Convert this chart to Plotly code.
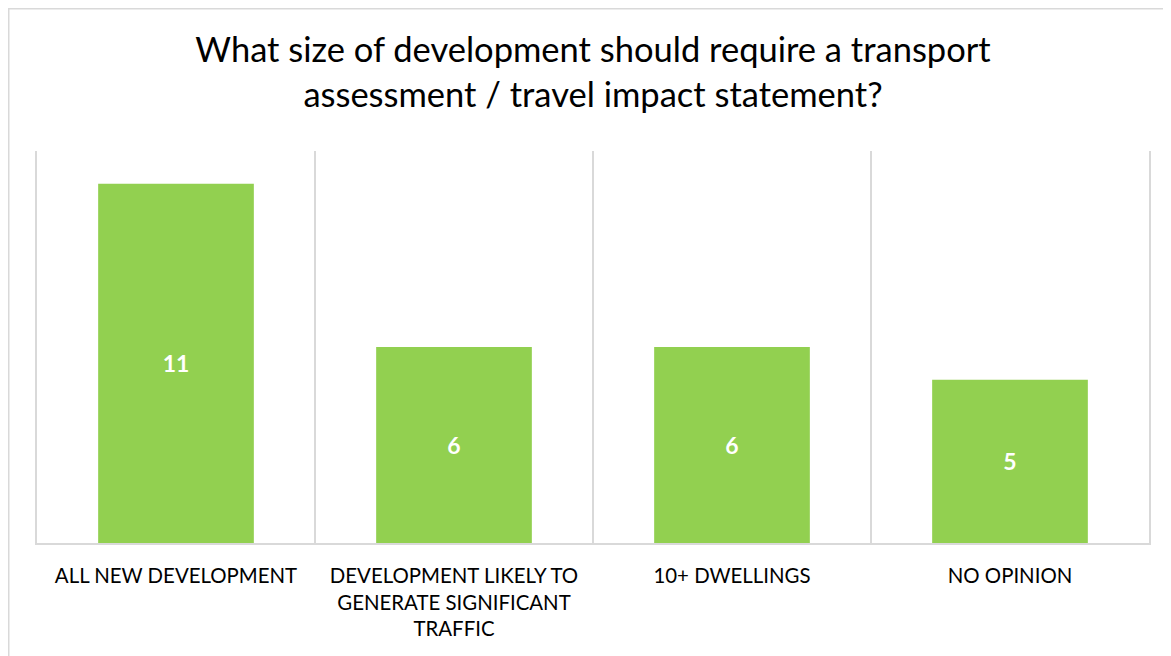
import plotly.graph_objects as go

categories = ["ALL NEW DEVELOPMENT",
              "DEVELOPMENT LIKELY TO<br>GENERATE SIGNIFICANT<br>TRAFFIC",
              "10+ DWELLINGS",
              "NO OPINION"]
values = [11, 6, 6, 5]
title_text = "What size of development should require a transport<br>assessment / travel impact statement?"

FONT = "Lato, Calibri, Carlito, sans-serif"
W, H = 1171, 656
OFF = 8  # page body margin offset
ML, MR, MT, MB = 37 - OFF, W - (1149 - OFF), 151 - OFF, H - (543 - OFF)

fig = go.Figure(go.Bar(
    x=categories, y=values,
    marker=dict(color="#92D050", line=dict(width=0)),
    text=[str(v) for v in values],
    textposition="inside", insidetextanchor="middle",
    textfont=dict(family=FONT, size=23, color="white", weight="bold"),
    textangle=0,
    hoverinfo="skip",
))

pw = W - ML - MR
ph = H - MT - MB
fig.add_shape(type="rect", xref="paper", yref="paper",
              x0=(0.75 - ML) / pw, x1=(W + 40 - ML) / pw,
              y0=-(H + 40 - (H - MB)) / ph, y1=(H - MB - 0.75) / ph,
              line=dict(color="#D9D9D9", width=1.5), fillcolor="rgba(0,0,0,0)", layer="below")

fig.update_layout(
    width=W, height=H,
    margin=dict(l=ML, r=MR, t=MT, b=MB, autoexpand=False),
    paper_bgcolor="white", plot_bgcolor="white",
    bargap=0.44,
    showlegend=False,
    title=dict(text=title_text, x=0.5, xref="paper", xanchor="center",
               y=1 - 54 / H, yref="container", yanchor="top",
               font=dict(family=FONT, size=34.5, color="#000000")),
    xaxis=dict(type="category", tickson="boundaries", showgrid=True,
               gridcolor="#D9D9D9", gridwidth=1.5,
               showline=True, linecolor="#D9D9D9", linewidth=1.5,
               ticks="", ticklen=0, ticklabelstandoff=14,
               tickfont=dict(family=FONT, size=20.4, color="#000000"),
               fixedrange=True),
    yaxis=dict(range=[0, 12], visible=True, showticklabels=False, ticks="",
               showgrid=False, zeroline=False,
               showline=True, mirror=True, linecolor="#D9D9D9", linewidth=1.5,
               fixedrange=True),
)

fig.write_html("out.html")
